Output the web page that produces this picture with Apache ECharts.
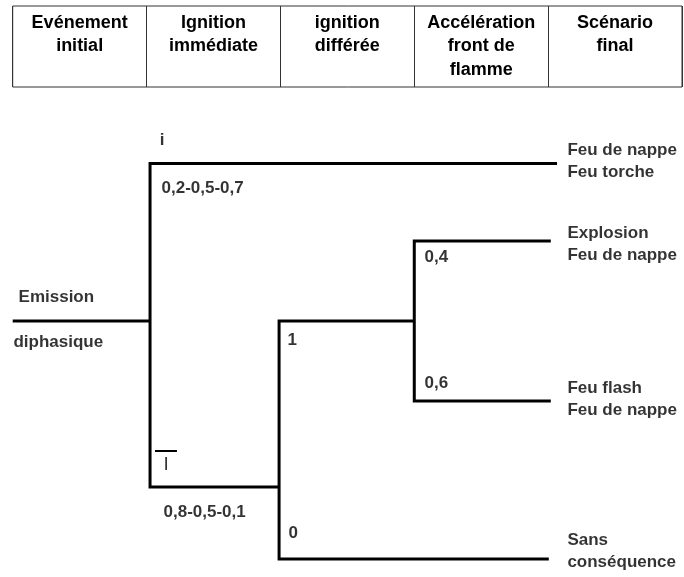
<!DOCTYPE html>
<html>
<head>
<meta charset="utf-8">
<script src="https://cdn.jsdelivr.net/npm/echarts@6/dist/echarts.min.js"></script>
<style>
  html, body { margin: 0; padding: 0; background: #fff; }
  #chart { width: 684px; height: 577px; }
</style>
</head>
<body>
<div id="chart"></div>
<script>
// column headers of the event tree
const stages = ['Evénement\ninitial', 'Ignition\nimmédiate', 'ignition\ndifférée', 'Accélération\nfront de\nflamme', 'Scénario\nfinal']

// branches as [stage, row] points : stage = column boundary, row = vertical level
const branches = [
  [[0, 2], [1.026, 2]],
  [[1.026, 2], [1.026, 0.03], [4.066, 0.03]],
  [[1.026, 2], [1.026, 4.075], [1.99, 4.075]],
  [[1.99, 4.075], [1.99, 2], [3, 2]],
  [[1.99, 4.075], [1.99, 4.975], [4.005, 4.975]],
  [[3, 2], [3, 1], [4.02, 1]],
  [[3, 2], [3, 3], [4.02, 3]]
]
// bar over the "I" (non ignition)
const overBar = [[[1.063, 3.625], [1.227, 3.625]]]

// texts
const eventTexts = ['Emission', 'diphasique', 'i', 'I']
const eventPos = [[0.04, 1.71], [0.002, 2.27], [1.094, -0.26], [1.123, 3.8]]

const probTexts = ['0,2-0,5-0,7', '0,8-0,5-0,1', '1', '0', '0,4', '0,6']
const probPos = [[1.108, 0.34], [1.123, 4.39], [2.05, 2.24], [2.056, 4.66], [3.073, 1.21], [3.073, 2.78]]

const outcomes = ['Feu de nappe\nFeu torche', 'Explosion\nFeu de nappe', 'Feu flash\nFeu de nappe', 'Sans\nconséquence']
const outcomePos = [[4.14, 0], [4.14, 1.04], [4.14, 2.98], [4.14, 4.88]]

const font = 'Liberation Sans, Arial, sans-serif'
const textStyle = {
  show: true,
  position: 'right',
  distance: 0,
  formatter: p => p.name,
  fontFamily: font,
  fontSize: 17,
  fontWeight: 'bold',
  lineHeight: 22,
  color: '#000'
}

function textSeries(texts, pos) {
  return {
    type: 'scatter',
    xAxisIndex: 0,
    yAxisIndex: 0,
    symbolSize: 1,
    itemStyle: { color: 'rgba(0,0,0,0)' },
    silent: true,
    label: textStyle,
    data: texts.map((t, i) => ({ name: t, value: pos[i] }))
  }
}

const chart = echarts.init(document.getElementById('chart'))
const evSeries = textSeries(eventTexts, eventPos)
evSeries.data[3].label = { fontWeight: 'normal', fontSize: 19 }

chart.setOption({
  animation: false,
  grid: [
    { left: 12.7, right: 2, top: 121, bottom: 0 },
    { left: 12.7, right: 2, top: 6, height: 81, show: true, borderColor: '#333', borderWidth: 1 }
  ],
  xAxis: [
    { gridIndex: 0, type: 'value', min: 0, max: 5, show: false },
    {
      gridIndex: 1,
      type: 'category',
      data: stages,
      position: 'top',
      boundaryGap: true,
      axisLine: { show: false },
      axisTick: { show: false },
      splitLine: { show: true, interval: 0, lineStyle: { color: '#333', width: 1 } },
      axisLabel: {
        inside: true,
        interval: 0,
        margin: 5,
        verticalAlign: 'top',
        lineHeight: 23.5,
        fontFamily: font,
        fontSize: 18,
        fontWeight: 'bold',
        color: '#000'
      }
    }
  ],
  yAxis: [
    { gridIndex: 0, type: 'value', min: -0.5, max: 5.2, inverse: true, show: false },
    { gridIndex: 1, type: 'value', min: 0, max: 1, show: false }
  ],
  series: [
    {
      type: 'lines',
      coordinateSystem: 'cartesian2d',
      xAxisIndex: 0,
      yAxisIndex: 0,
      polyline: true,
      silent: true,
      lineStyle: { color: '#000', width: 3, opacity: 1 },
      data: branches.map(c => ({ coords: c }))
    },
    {
      type: 'lines',
      coordinateSystem: 'cartesian2d',
      xAxisIndex: 0,
      yAxisIndex: 0,
      silent: true,
      lineStyle: { color: '#000', width: 2, opacity: 1 },
      data: overBar.map(c => ({ coords: c }))
    },
    evSeries,
    textSeries(probTexts, probPos),
    textSeries(outcomes, outcomePos)
  ]
})
</script>
</body>
</html>
